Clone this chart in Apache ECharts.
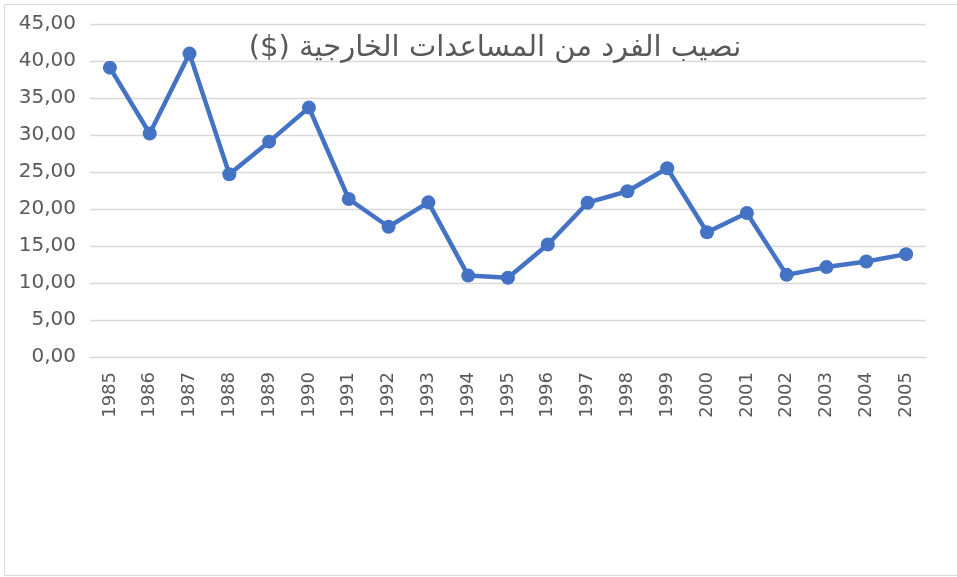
<!DOCTYPE html>
<html>
<head>
<meta charset="utf-8">
<script src="https://cdn.jsdelivr.net/npm/echarts@6/dist/echarts.min.js"></script>
<style>
  html, body { margin: 0; padding: 0; background: #fff; }
  #main { width: 957px; height: 577px; }
</style>
</head>
<body>
<div id="main"></div>
<script type="text/javascript">
// years on the x axis
var years = ['1985', '1986', '1987', '1988', '1989', '1990', '1991', '1992', '1993', '1994', '1995',
             '1996', '1997', '1998', '1999', '2000', '2001', '2002', '2003', '2004', '2005'];
// aid per capita ($)
var aidPerCapita = [39.1, 30.2, 41.0, 24.7, 29.1, 33.7, 21.35, 17.6, 20.9, 11.0, 10.7,
                    15.2, 20.85, 22.4, 25.5, 16.85, 19.45, 11.1, 12.15, 12.9, 13.9];
var yTicks = { min: 0, max: 45, step: 5 };
var titleText = '\u202Bنصيب الفرد من المساعدات الخارجية ($)\u202C';

var myChart = echarts.init(document.getElementById('main'));

var option = {
    backgroundColor: '#ffffff',
    animation: false,
    title: {
        text: titleText,
        left: 490,
        textAlign: 'center',
        top: 29,
        textStyle: { fontFamily: 'DejaVu Sans', fontSize: 29, fontWeight: 'normal', color: '#595959' }
    },
    graphic: [{
        type: 'rect',
        shape: { x: 4.5, y: 4.5, width: 970, height: 571 },
        style: { fill: 'none', stroke: '#d9d9d9', lineWidth: 1 },
        silent: true
    }],
    grid: { left: 90, right: 31, top: 24, bottom: 220 },
    xAxis: {
        type: 'category',
        data: years,
        boundaryGap: true,
        axisLine: { show: true, lineStyle: { color: '#d9d9d9', width: 1 } },
        axisTick: { show: false },
        axisLabel: {
            rotate: 90,
            margin: 15,
            color: '#595959',
            fontFamily: 'DejaVu Sans',
            fontSize: 18
        }
    },
    yAxis: {
        type: 'value',
        min: yTicks.min,
        max: yTicks.max,
        interval: yTicks.step,
        axisLine: { show: false },
        axisTick: { show: false },
        splitLine: { lineStyle: { color: '#d9d9d9', width: 1.3 } },
        axisLabel: {
            margin: 14,
            color: '#595959',
            fontFamily: 'DejaVu Sans',
            fontSize: 20,
            formatter: function (v) { return v.toFixed(2).replace('.', ','); }
        }
    },
    series: [{
        name: 'aid',
        type: 'line',
        data: aidPerCapita,
        symbol: 'circle',
        symbolSize: 14,
        lineStyle: { color: '#4472C4', width: 4.5 },
        itemStyle: { color: '#4472C4' }
    }]
};

myChart.setOption(option);
</script>
</body>
</html>
